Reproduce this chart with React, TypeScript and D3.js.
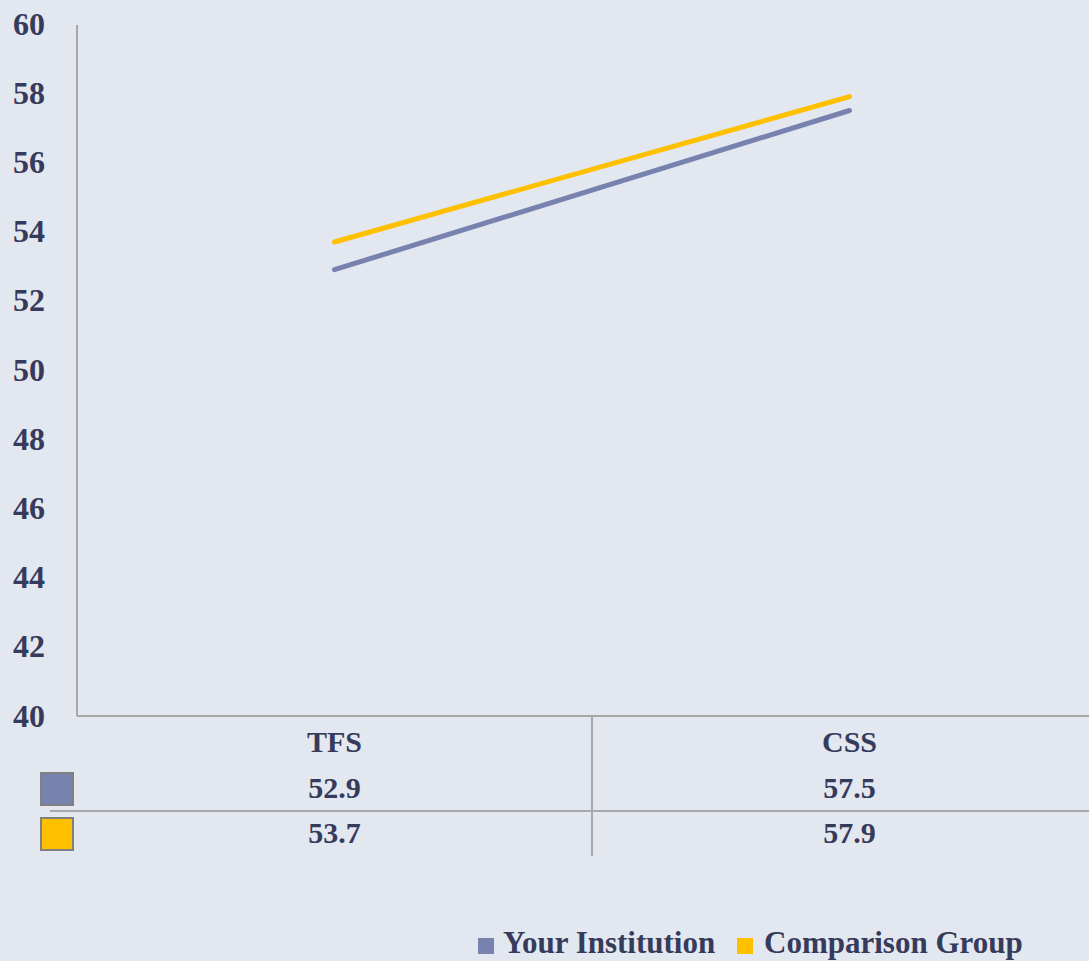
import React from "react";
import * as d3 from "d3";

const categories = ["TFS", "CSS"];
const seriesNames = ["Your Institution", "Comparison Group"];
const yourInstitution = [52.9, 57.5];
const comparisonGroup = [53.7, 57.9];
const yTicks = [40, 42, 44, 46, 48, 50, 52, 54, 56, 58, 60];
const colors = ["#7782AE", "#FFC000"];

const W = 1089;
const H = 961;
const FONT = "'Liberation Serif', 'DejaVu Serif', serif";
const TEXT = "#363B5C";
const GRID = "#A8A8A8";

export default function App() {
  const left = 77;
  const x = d3.scaleBand<string>().domain(categories).range([left, left + 1030]).paddingInner(0).paddingOuter(0);
  const y = d3.scaleLinear().domain([40, 60]).range([716, 24]);
  const series = [yourInstitution, comparisonGroup];
  const line = d3
    .line<number>()
    .x((_, i) => (x(categories[i]) as number) + x.bandwidth() / 2)
    .y((d) => y(d));
  const bw = x.bandwidth();
  const rowY = [788, 833];
  return (
    <svg width={W} height={H} style={{ position: "absolute", left: 0, top: 0, background: "#E3E7EF" }}>
      <rect x={0} y={0} width={W} height={H} fill="#E3E7EF" />
      <line x1={left} x2={left} y1={y(60) + 1} y2={y(40)} stroke={GRID} strokeWidth={2} />
      {yTicks.map((t) => (
        <text key={t} x={45} y={y(t)} dy="0.33em" textAnchor="end" fontFamily={FONT} fontWeight="bold" fontSize={32} fill={TEXT}>
          {t}
        </text>
      ))}
      <line x1={left} x2={W} y1={y(40)} y2={y(40)} stroke={GRID} strokeWidth={2} />
      <line x1={50} x2={W} y1={811} y2={811} stroke={GRID} strokeWidth={2} />
      {categories.slice(1).map((c) => (
        <line key={c} x1={x(c) as number} x2={x(c) as number} y1={y(40)} y2={856} stroke={GRID} strokeWidth={2} />
      ))}
      {categories.map((c) => (
        <text key={c} x={(x(c) as number) + bw / 2} y={742} dy="0.33em" textAnchor="middle" fontFamily={FONT} fontWeight="bold" fontSize={30} fill={TEXT}>
          {c}
        </text>
      ))}
      {series.map((s, si) => (
        <g key={si}>
          <rect x={41} y={rowY[si] - 15} width={32} height={32} fill={colors[si]} stroke="#808080" strokeWidth={2} />
          {s.map((v, i) => (
            <text key={i} x={(x(categories[i]) as number) + bw / 2} y={rowY[si]} dy="0.33em" textAnchor="middle" fontFamily={FONT} fontWeight="bold" fontSize={30} fill={TEXT}>
              {v.toFixed(1)}
            </text>
          ))}
        </g>
      ))}
      {series.map((s, si) => (
        <path key={si} d={line(s) as string} fill="none" stroke={colors[si]} strokeWidth={5} strokeLinecap="round" />
      ))}
      <g>
        <rect x={478} y={938} width={16} height={16} fill={colors[0]} />
        <text x={503} y={953} fontFamily={FONT} fontWeight="bold" fontSize={31} fill={TEXT}>
          {seriesNames[0]}
        </text>
        <rect x={737} y={938} width={16} height={16} fill={colors[1]} />
        <text x={764} y={953} fontFamily={FONT} fontWeight="bold" fontSize={31} fill={TEXT}>
          {seriesNames[1]}
        </text>
      </g>
    </svg>
  );
}
